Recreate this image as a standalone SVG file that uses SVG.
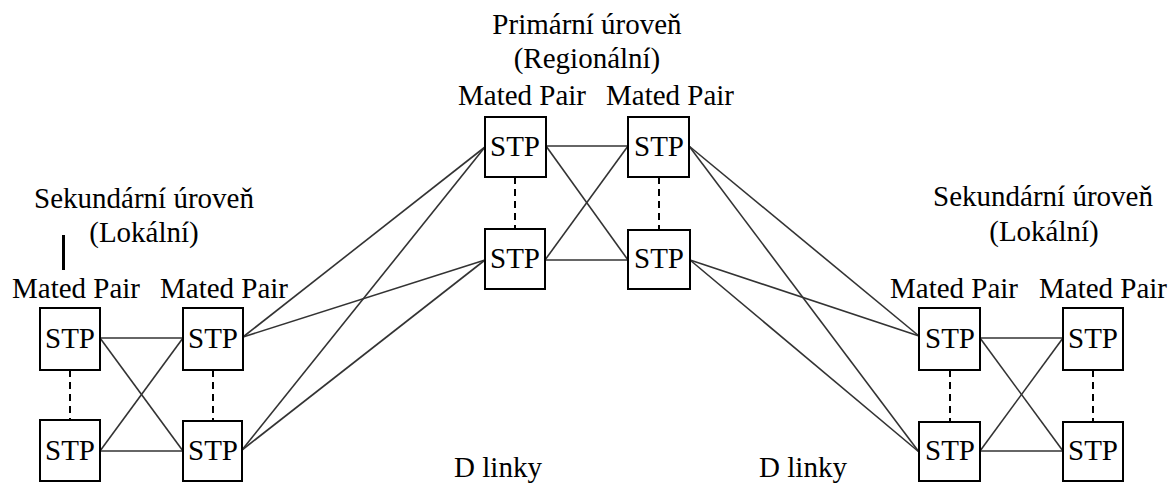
<svg xmlns="http://www.w3.org/2000/svg" width="1174" height="483" viewBox="0 0 1174 483">
<style>
.bg{fill:#fff}
.box{fill:#fff;stroke:#000;stroke-width:2}
.t{font-family:'Liberation Serif','Tinos','Times New Roman','DejaVu Serif',serif;font-size:29px;fill:#000;text-anchor:middle}
.ln{stroke:#333;stroke-width:1.6;fill:none}
.dash{stroke:#000;stroke-width:2;stroke-dasharray:7,5;fill:none}
</style>
<rect class="bg" x="0" y="0" width="1174" height="483"/>
<g id="labels" font-family="Liberation Serif, Tinos, Times New Roman, DejaVu Serif, serif">
<text class="t" x="587" y="34">Primární úroveň</text>
<text class="t" x="587" y="68">(Regionální)</text>
<text class="t" x="522" y="105">Mated Pair</text>
<text class="t" x="670" y="105">Mated Pair</text>
<text class="t" x="144" y="208">Sekundární úroveň</text>
<text class="t" x="144" y="242">(Lokální)</text>
<rect x="62" y="235" width="3" height="35" fill="#000"/>
<text class="t" x="76" y="298">Mated Pair</text>
<text class="t" x="224" y="298">Mated Pair</text>
<text class="t" x="1043" y="206">Sekundární úroveň</text>
<text class="t" x="1044" y="241">(Lokální)</text>
<text class="t" x="954" y="298">Mated Pair</text>
<text class="t" x="1103" y="298">Mated Pair</text>
<text class="t" x="498" y="477">D linky</text>
<text class="t" x="803" y="477">D linky</text>
</g>
<g id="connectors">
<line class="dash" x1="70" y1="370" x2="70" y2="420"/>
<line class="dash" x1="213" y1="370" x2="213" y2="421"/>
<line class="dash" x1="515" y1="177" x2="515" y2="229"/>
<line class="dash" x1="659" y1="177" x2="659" y2="230"/>
<line class="dash" x1="950" y1="370" x2="950" y2="422"/>
<line class="dash" x1="1093" y1="370" x2="1093" y2="422"/>
<line class="ln" x1="100" y1="338" x2="183" y2="338"/>
<line class="ln" x1="100" y1="451" x2="183" y2="451"/>
<line class="ln" x1="100" y1="338" x2="183" y2="451"/>
<line class="ln" x1="100" y1="451" x2="183" y2="338"/>
<line class="ln" x1="546" y1="146" x2="628" y2="146"/>
<line class="ln" x1="545" y1="260" x2="628" y2="260"/>
<line class="ln" x1="546" y1="146" x2="628" y2="260"/>
<line class="ln" x1="545" y1="260" x2="628" y2="146"/>
<line class="ln" x1="980" y1="338" x2="1063" y2="338"/>
<line class="ln" x1="980" y1="451" x2="1063" y2="451"/>
<line class="ln" x1="980" y1="338" x2="1063" y2="451"/>
<line class="ln" x1="980" y1="451" x2="1063" y2="338"/>
<line class="ln" x1="243" y1="337" x2="485" y2="147"/>
<line class="ln" x1="243" y1="337" x2="485" y2="260"/>
<line class="ln" x1="242" y1="450" x2="485" y2="147"/>
<line class="ln" x1="242" y1="450" x2="485" y2="260"/>
<line class="ln" x1="689" y1="146" x2="919" y2="336"/>
<line class="ln" x1="689" y1="146" x2="919" y2="452"/>
<line class="ln" x1="690" y1="260" x2="919" y2="336"/>
<line class="ln" x1="690" y1="260" x2="919" y2="452"/>
</g>
<g font-family="Liberation Serif, Tinos, Times New Roman, DejaVu Serif, serif">
<g id="L1a"><rect class="box" x="40" y="308" width="60" height="62"/><text class="t" x="70" y="348">STP</text></g>
<g id="L1b"><rect class="box" x="40" y="420" width="60" height="61"/><text class="t" x="70" y="460">STP</text></g>
<g id="L2a"><rect class="box" x="183" y="308" width="60" height="62"/><text class="t" x="213" y="348">STP</text></g>
<g id="L2b"><rect class="box" x="183" y="421" width="59" height="60"/><text class="t" x="213" y="460">STP</text></g>
<g id="C1a"><rect class="box" x="485" y="117" width="61" height="60"/><text class="t" x="515" y="156">STP</text></g>
<g id="C1b"><rect class="box" x="485" y="229" width="60" height="60"/><text class="t" x="515" y="268">STP</text></g>
<g id="C2a"><rect class="box" x="628" y="117" width="61" height="60"/><text class="t" x="659" y="156">STP</text></g>
<g id="C2b"><rect class="box" x="628" y="230" width="62" height="59"/><text class="t" x="659" y="268">STP</text></g>
<g id="R1a"><rect class="box" x="919" y="308" width="61" height="62"/><text class="t" x="950" y="348">STP</text></g>
<g id="R1b"><rect class="box" x="919" y="422" width="61" height="59"/><text class="t" x="950" y="460">STP</text></g>
<g id="R2a"><rect class="box" x="1063" y="308" width="60" height="62"/><text class="t" x="1093" y="348">STP</text></g>
<g id="R2b"><rect class="box" x="1063" y="422" width="60" height="59"/><text class="t" x="1093" y="460">STP</text></g>
</g>
</svg>
